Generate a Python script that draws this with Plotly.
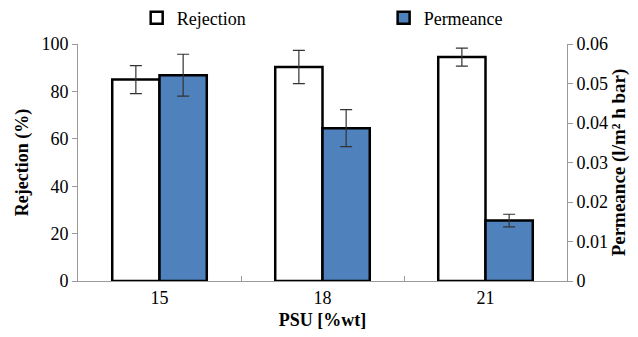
import plotly.graph_objects as go

categories = ["15", "18", "21"]
rejection = [85.0, 90.3, 94.5]
rejection_err = [5.9, 7.0, 3.8]
permeance = [0.0521, 0.0387, 0.0153]
permeance_err = [0.0053, 0.0047, 0.0016]

FONT = "Liberation Serif"

fig = go.Figure()
fig.add_trace(go.Bar(
    x=categories, y=rejection, name="Rejection",
    marker=dict(color="white", line=dict(color="black", width=2.5)),
    error_y=dict(type="data", array=rejection_err, color="#333333", thickness=1.2, width=6),
    offsetgroup="1", yaxis="y", legend="legend",
))
fig.add_trace(go.Bar(
    x=categories, y=permeance, name="Permeance",
    marker=dict(color="#4F81BD", line=dict(color="black", width=2.5)),
    error_y=dict(type="data", array=permeance_err, color="#333333", thickness=1.2, width=6),
    offsetgroup="2", yaxis="y2", legend="legend2",
))

leg_common = dict(orientation="h", yanchor="middle", xanchor="left",
                  font=dict(family=FONT, size=18, color="black"),
                  itemwidth=30, bgcolor="rgba(0,0,0,0)")

fig.update_layout(
    width=638, height=337,
    margin=dict(l=78, r=71, t=44, b=56, autoexpand=False),
    paper_bgcolor="white", plot_bgcolor="white",
    barmode="group", bargap=0.42, bargroupgap=0,
    font=dict(family=FONT, size=18, color="black"),
    showlegend=True,
    legend=dict(x=0.12, y=1.11, **leg_common),
    legend2=dict(x=0.625, y=1.11, **leg_common),
    xaxis=dict(
        showline=True, linecolor="#9a9a9a", linewidth=1,
        ticks="inside", ticklen=5, tickcolor="#9a9a9a", tickson="boundaries",
        tickfont=dict(family=FONT, size=18),
        title=dict(text="<b>PSU [%wt]</b>", font=dict(family=FONT, size=18), standoff=6),
    ),
    yaxis=dict(
        range=[0, 100], dtick=20, showgrid=False, zeroline=False,
        showline=True, linecolor="#9a9a9a", linewidth=1,
        ticks="outside", ticklen=5, tickcolor="#9a9a9a",
        tickfont=dict(family=FONT, size=18),
        title=dict(text="<b>Rejection (%)</b>", font=dict(family=FONT, size=18), standoff=8),
    ),
    yaxis2=dict(
        range=[0, 0.06], dtick=0.01, overlaying="y", side="right",
        showgrid=False, zeroline=False,
        showline=True, linecolor="#9a9a9a", linewidth=1,
        ticks="outside", ticklen=5, tickcolor="#9a9a9a",
        tickfont=dict(family=FONT, size=18), tickformat="~g",
        title=dict(text="<b>Permeance (l/m² h bar)</b>", font=dict(family=FONT, size=19), standoff=4),
    ),
)

fig.write_html("out.html", config={"displayModeBar": False},
               post_script="document.body.style.margin='0';")
